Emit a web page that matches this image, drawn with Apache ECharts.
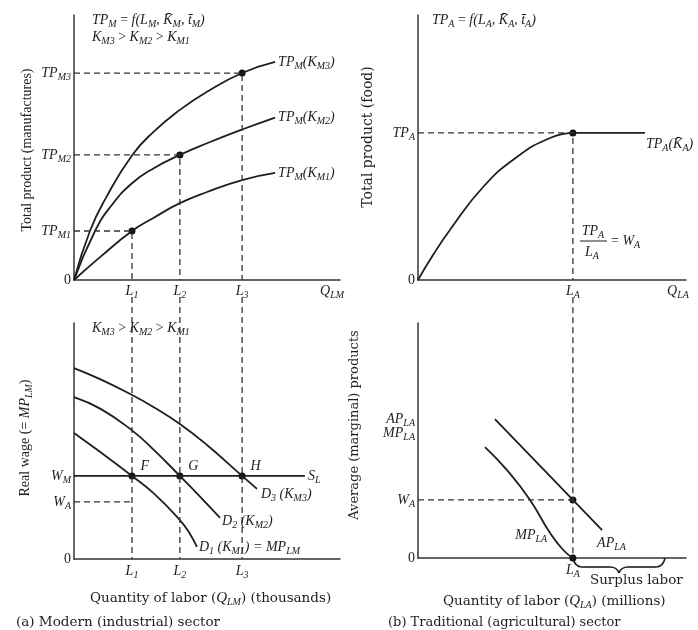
<!DOCTYPE html>
<html><head><meta charset="utf-8">
<script src="https://cdn.jsdelivr.net/npm/echarts@6/dist/echarts.min.js"></script>
<style>html,body{margin:0;padding:0;background:#fff}#c{width:698px;height:630px}</style>
</head><body><div id="c"></div>
<script>
// ================= DATA =================
// (a) top: total product of manufactures for three capital stocks
const tpmK1 = [[0,0],[10,8.8],[21.8,18.5],[30,23.5],[39.8,29],[50,33.2],[63.2,37.7],[75.6,40.4]];
const tpmK2 = [[0,0],[7.9,18.5],[14,28],[21.8,36.5],[30,42.2],[39.8,47.2],[50,51.6],[63.2,56.8],[75.6,61.3]];
const tpmK3 = [[0,0],[6,18.5],[12,31],[21.8,47],[30,56],[39.8,64.2],[50,71],[63.2,78.1],[75.6,82.3]];
const laborLM = [21.8, 39.8, 63.2];          // L1, L2, L3
const tpmLevels = [18.5, 47.2, 78.1];        // TP_M1, TP_M2, TP_M3
// (a) bottom: labour demand curves and wages
const demD1 = [[0,53.4],[10,45.2],[21.8,35.2],[30,27.8],[39.8,16.5],[43.5,10.8],[46.2,5.1]];
const demD2 = [[0,68.6],[10,63.6],[21.8,54.5],[30,46.2],[39.8,35.2],[48,25.7],[54.9,17.4]];
const demD3 = [[0,80.9],[10,76.1],[21.8,69.5],[30,64.3],[39.8,57.2],[50,48.3],[63.2,35.2],[68.8,29.7]];
const wageWM = 35.2;
const wageWAa = 24.2;
const supplyEnd = 86.8;
const pointNames = ['F','G','H'];
// (b) top: total product of food
const tpaCurve = [[0,0],[5.6,9.4],[11.9,18.9],[24.3,35.1],[36.9,46.4],[49.3,53.6],[57.8,55.5]];
const tpaFlatEnd = 84.7;
const laborLA = 57.8;
const tpaLevel = 55.5;
// (b) bottom: average and marginal products
const apLA = [[28.7,59.1],[57.8,24.7],[68.7,11.9]];
const mpLA = [[25,47.2],[33.2,37.4],[41.8,24.7],[49.3,10.6],[54.2,3.4],[57.8,0]];
const wageWAb = 24.7;
const mpTickLevel = 53.2;                     // MP_LA tick label
const apTickLevel = 59.1;                     // AP_LA tick label
const surplusEnd = 92.2;
const axisEndTick = 97;

// ================= STYLE =================
const FONT = "'Liberation Serif','Times New Roman',serif";
const FONT2 = "'DejaVu Serif','Liberation Serif',serif";
const INK = '#1e1e1e';
const rich = {
  i: {fontFamily:FONT, fontStyle:'italic', fontSize:14, color:INK, verticalAlign:'middle'},
  s: {fontFamily:FONT, fontStyle:'italic', fontSize:10, color:INK, verticalAlign:'middle', padding:[8,0,0,0]},
  r: {fontFamily:FONT, fontSize:14, color:INK, verticalAlign:'middle'},
  c: {fontFamily:FONT2, fontSize:13.5, color:INK, verticalAlign:'middle'},
  c2: {fontFamily:FONT2, fontSize:13, color:INK, verticalAlign:'middle'},
  ci: {fontFamily:FONT, fontStyle:'italic', fontSize:15, color:INK, verticalAlign:'middle'},
  cs: {fontFamily:FONT, fontStyle:'italic', fontSize:10, color:INK, verticalAlign:'middle', padding:[8,0,0,0]}
};
function sub(a, b){ return '{i|'+a+'}{s|'+b+'}'; }
const MAC = '\u0304';

function axisLabels(values, texts, margin){
  return {show:true, customValues: values, rich: rich, margin: margin, color: INK, hideOverlap:false,
    fontFamily: FONT, fontSize: 14,
    formatter: function(v){ const k = values.findIndex(u => Math.abs(u - v) < 1e-6); return k < 0 ? '' : texts[k]; }};
}
function mkAxis(gi, values, texts, margin, pos, hideLine){
  return {type:'value', gridIndex: gi, min:0, max:100, position: pos,
    axisLine:{show:!hideLine, onZero:false, lineStyle:{color:'#333', width:1.5}},
    axisTick:{show:false}, splitLine:{show:false},
    axisLabel: axisLabels(values, texts, margin)};
}
const solid = {color: INK, width: 1.8};
const dashed = {color: '#333', width: 1.3, type: [6,4]};
function endLbl(text, distance, offset){
  return {show:true, formatter:()=>text, rich:rich, distance:distance, offset:offset || [0,0], color:INK};
}
function curve(gi, data, endLabel, smooth){
  return {type:'line', xAxisIndex:gi, yAxisIndex:gi, data:data, smooth: smooth === false ? false : 0.5,
    showSymbol:false, symbol:'none', lineStyle:solid, silent:true,
    endLabel: endLabel || {show:false}};
}
function guide(gi, data){
  return {type:'line', xAxisIndex:gi, yAxisIndex:gi, data:data, symbol:'none', showSymbol:false,
    lineStyle:dashed, clip:false, silent:true};
}
function dots(gi, data, labelFn){
  return {type:'scatter', xAxisIndex:gi, yAxisIndex:gi, data:data, symbolSize:7, clip:false,
    itemStyle:{color:'#111', opacity:1}, silent:true,
    label: labelFn ? {show:true, position:'right', distance:5, offset:[0,-10], formatter:labelFn, rich:rich, color:INK} : {show:false}};
}

const series = [];
// ---- (a) top ----
series.push(curve(0, tpmK1, endLbl(sub('TP','M')+'{i|(K}{s|M1}{i|)}', 3)));
series.push(curve(0, tpmK2, endLbl(sub('TP','M')+'{i|(K}{s|M2}{i|)}', 3)));
series.push(curve(0, tpmK3, endLbl(sub('TP','M')+'{i|(K}{s|M3}{i|)}', 3)));
laborLM.forEach((L, i) => series.push(guide(0, [[0, tpmLevels[i]], [L, tpmLevels[i]], [L, 0]])));
series.push(dots(0, laborLM.map((L, i) => [L, tpmLevels[i]])));
// ---- (a) bottom ----
series.push(curve(1, demD1, endLbl('{i|D}{s|1}{i| (K}{s|M1}{i|) = MP}{s|LM}', 2)));
series.push(curve(1, demD2, endLbl('{i|D}{s|2}{i| (K}{s|M2}{i|)}', 2, [0,3])));
series.push(curve(1, demD3, endLbl('{i|D}{s|3}{i| (K}{s|M3}{i|)}', 4, [0,5])));
series.push(curve(1, [[0, wageWM], [supplyEnd, wageWM]], endLbl(sub('S','L'), 3), false));
series.push(guide(1, [[0, wageWAa], [laborLM[0], wageWAa]]));
laborLM.forEach(L => series.push(guide(1, [[L, 111], [L, 0]])));
series.push(dots(1, laborLM.map((L, i) => [L, wageWM, pointNames[i]]), p => '{i|' + p.data[2] + '}'));
// ---- (b) top ----
series.push(curve(2, tpaCurve));
series.push(curve(2, [[laborLA, tpaLevel], [tpaFlatEnd, tpaLevel]],
  endLbl(sub('TP','A') + '{i|(K' + MAC + '}{s|A}{i|)}', 1, [0,11]), false));
series.push(guide(2, [[0, tpaLevel], [laborLA, tpaLevel], [laborLA, 0]]));
series.push(dots(2, [[laborLA, tpaLevel]]));
// ---- (b) bottom ----
series.push(curve(3, apLA, endLbl(sub('AP','LA'), 2, [-7,13]), false));
series.push(curve(3, mpLA));
series.push({type:'scatter', xAxisIndex:3, yAxisIndex:3, symbolSize:0, silent:true, data:[mpLA[3]],
  itemStyle:{opacity:1},
  label:{show:true, position:'left', distance:3, offset:[0,2], formatter:()=>sub('MP','LA'), rich:rich, color:INK}});
series.push(guide(3, [[0, wageWAb], [laborLA, wageWAb]]));
series.push(guide(3, [[laborLA, 111], [laborLA, 0]]));
series.push(dots(3, [[laborLA, wageWAb], [laborLA, 0]]));
series.push({type:'custom', xAxisIndex:3, yAxisIndex:3, clip:false, silent:true, data:[[laborLA, surplusEnd]],
  renderItem: function(params, api){
    const a = api.coord([api.value(0), 0]);
    const b = api.coord([api.value(1), 0]);
    const x0 = a[0], y0 = a[1], x1 = b[0], xm = (x0 + x1) / 2, h = 9, d = 15, q = 9;
    const st = {stroke: INK, lineWidth: 1.6, fill: null};
    return {type:'group', children:[
      {type:'bezierCurve', shape:{x1:x0, y1:y0, cpx1:x0+2, cpy1:y0+h, x2:x0+q, y2:y0+h}, style:st},
      {type:'line', shape:{x1:x0+q, y1:y0+h, x2:xm-q, y2:y0+h}, style:st},
      {type:'bezierCurve', shape:{x1:xm-q, y1:y0+h, cpx1:xm-2, cpy1:y0+h, x2:xm, y2:y0+d}, style:st},
      {type:'bezierCurve', shape:{x1:xm, y1:y0+d, cpx1:xm+2, cpy1:y0+h, x2:xm+q, y2:y0+h}, style:st},
      {type:'line', shape:{x1:xm+q, y1:y0+h, x2:x1-q, y2:y0+h}, style:st},
      {type:'bezierCurve', shape:{x1:x1-q, y1:y0+h, cpx1:x1-2, cpy1:y0+h, x2:x1, y2:y0}, style:st},
      {type:'text', x:x0+17, y:y0+22, style:{text:'Surplus labor', font:'13.5px ' + FONT2, fill:INK, align:'left', verticalAlign:'middle', textAlign:'left', textVerticalAlign:'middle'}}
    ]};
  }});

// ================= TEXT ANNOTATIONS =================
function txt(x, y, text, opts){
  opts = opts || {};
  return {type:'text', x:x, y:y, rotation: opts.rot || 0, silent:true,
    style:{text:text, rich:rich, font:(opts.size || 14) + 'px ' + (opts.font || FONT), fill:INK,
      align: opts.align || 'left', verticalAlign:'middle', textAlign: opts.align || 'left', textVerticalAlign:'middle'}};
}
const R90 = Math.PI / 2;
const graphic = [
  txt(92, 20, sub('TP','M') + '{r| = }{i|f(L}{s|M}{i|, K' + MAC + '}{s|M}{i|, t' + MAC + '}{s|M}{i|)}'),
  txt(92, 37, sub('K','M3') + '{r| > }' + sub('K','M2') + '{r| > }' + sub('K','M1')),
  txt(432, 20, sub('TP','A') + '{r| = }{i|f(L}{s|A}{i|, K' + MAC + '}{s|A}{i|, t' + MAC + '}{s|A}{i|)}'),
  txt(92, 328, sub('K','M3') + '{r| > }' + sub('K','M2') + '{r| > }' + sub('K','M1')),
  txt(593, 231, sub('TP','A'), {align:'center'}),
  {type:'line', silent:true, shape:{x1:580, y1:241, x2:607, y2:241}, style:{stroke:INK, lineWidth:1}},
  txt(592, 252, sub('L','A'), {align:'center'}),
  txt(611, 241, '{r|= }' + sub('W','A')),
  txt(27, 150, 'Total product (manufactures)', {rot:R90, align:'center'}),
  txt(25, 438, '{r|Real wage (= }' + '{i|MP}{s|LM}' + '{r|)}', {rot:R90, align:'center'}),
  txt(368, 137, 'Total product (food)', {rot:R90, align:'center', font:FONT2}),
  txt(355, 425, 'Average (marginal) products', {rot:R90, align:'center', font:FONT2, size:13}),
  txt(90, 598, '{c|Quantity of labor (}' + '{ci|Q}{cs|LM}' + '{c|) (thousands)}'),
  txt(16, 622, '{c|(a) Modern (industrial) sector}'),
  txt(443, 601, '{c|Quantity of labor (}' + '{ci|Q}{cs|LA}' + '{c|) (millions)}'),
  txt(388, 623, '{c2|(b) Traditional (agricultural) sector}')
];

const gridBase = {containLabel:false, outerBoundsMode:'none'};
const option = {
  animation:false,
  backgroundColor:'#ffffff',
  grid:[
    Object.assign({left:74, top:15, width:266, height:265}, gridBase),
    Object.assign({left:74, top:323, width:266, height:236}, gridBase),
    Object.assign({left:418, top:15, width:268, height:265}, gridBase),
    Object.assign({left:418, top:323, width:268, height:235}, gridBase)
  ],
  xAxis:[
    mkAxis(0, [...laborLM, axisEndTick], [sub('L','1'), sub('L','2'), sub('L','3'), sub('Q','LM')], 2, 'bottom'),
    mkAxis(1, laborLM, [sub('L','1'), sub('L','2'), sub('L','3')], 3, 'bottom'),
    mkAxis(2, [laborLA, axisEndTick], [sub('L','A'), sub('Q','LA')], 2, 'bottom'),
    mkAxis(3, [laborLA], [sub('L','A')], 3, 'bottom')
  ],
  yAxis:[
    mkAxis(0, [0, ...tpmLevels], ['{r|0}', sub('TP','M1'), sub('TP','M2'), sub('TP','M3')], 3, 'left'),
    mkAxis(1, [0, wageWAa, wageWM], ['{r|0}', sub('W','A'), sub('W','M')], 3, 'left'),
    mkAxis(2, [0, tpaLevel], ['{r|0}', sub('TP','A')], 3, 'left'),
    mkAxis(3, [0, wageWAb, mpTickLevel], ['{r|0}', sub('W','A'), sub('MP','LA')], 3, 'left'),
    mkAxis(3, [apTickLevel], [sub('AP','LA')], 3, 'left', true)
  ],
  series: series,
  graphic: graphic
};
const chart = echarts.init(document.getElementById('c'));
chart.setOption(option);
</script>
</body></html>
